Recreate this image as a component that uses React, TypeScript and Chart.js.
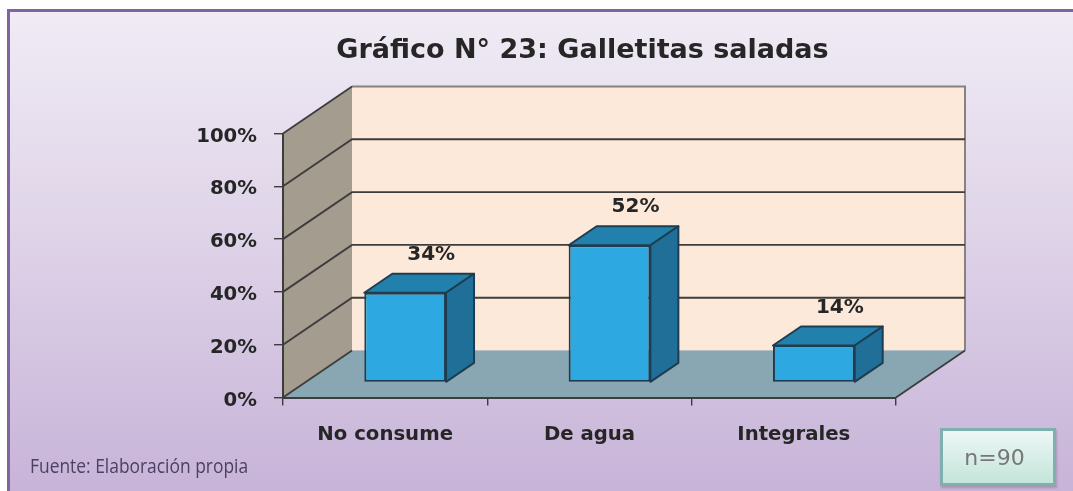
import React, { useEffect, useRef } from "react";
import { Chart, registerables } from "chart.js";

Chart.register(...registerables);

const categories = ["No consume", "De agua", "Integrales"];
const values = [34, 52, 14];
const yTicks = [0, 20, 40, 60, 80, 100];
const titleText = "Gráfico N° 23: Galletitas saladas";
const sourceText = "Fuente: Elaboración propia";
const sampleText = "n=90";

const DEPTH = { x: 69, y: 47 };
const BAR_SHIFT = { x: 20, y: 15 };
const BAR_DEPTH = { x: 28, y: 19 };
const FONT = "'DejaVu Sans', sans-serif";

const poly = (ctx: CanvasRenderingContext2D, pts: number[][], fill: string, stroke?: string, lw = 2) => {
  ctx.beginPath();
  pts.forEach(([x, y], i) => (i ? ctx.lineTo(x, y) : ctx.moveTo(x, y)));
  ctx.closePath();
  ctx.fillStyle = fill;
  ctx.fill();
  if (stroke) {
    ctx.strokeStyle = stroke;
    ctx.lineWidth = lw;
    ctx.lineJoin = "round";
    ctx.stroke();
  }
};

const line = (ctx: CanvasRenderingContext2D, pts: number[][], color: string, lw: number) => {
  ctx.beginPath();
  pts.forEach(([x, y], i) => (i ? ctx.lineTo(x, y) : ctx.moveTo(x, y)));
  ctx.strokeStyle = color;
  ctx.lineWidth = lw;
  ctx.stroke();
};

const box3d = {
  id: "box3d",
  afterLayout(chart: any) {
    // The title is centred well to the right of the middle of its layout box.
    chart.titleBlock.left += 73;
    chart.titleBlock.right += 73;
  },
  beforeDraw(chart: any) {
    const { ctx, chartArea: a, scales } = chart;
    const y = scales.y;
    const y0 = y.getPixelForValue(0);
    const y100 = y.getPixelForValue(100);
    const bx0 = a.left + DEPTH.x;
    const bx1 = a.right + DEPTH.x;
    ctx.save();
    poly(ctx, [[bx0, y100 - DEPTH.y], [bx1, y100 - DEPTH.y], [bx1, y0 - DEPTH.y], [bx0, y0 - DEPTH.y]], "#FDE9D9");
    poly(ctx, [[a.left, y100], [bx0, y100 - DEPTH.y], [bx0, y0 - DEPTH.y], [a.left, y0]], "#A59C90");
    poly(ctx, [[a.left, y0], [bx0, y0 - DEPTH.y], [bx1, y0 - DEPTH.y], [a.right, y0]], "#88A7B2");
    line(ctx, [[bx1, y0 - DEPTH.y], [bx1, y100 - DEPTH.y], [bx0, y100 - DEPTH.y]], "#85827F", 2);
    yTicks.forEach((v) => {
      const py = y.getPixelForValue(v);
      if (v === 100) {
        line(ctx, [[a.left, py], [bx0, py - DEPTH.y]], "#3d3d3d", 1.8);
      } else if (v === 0) {
        line(ctx, [[a.left, py], [bx0, py - DEPTH.y]], "#3d3d3d", 1.8);
        line(ctx, [[a.right, py], [bx1, py - DEPTH.y]], "#3d3d3d", 1.8);
      } else {
        line(ctx, [[a.left, py], [bx0, py - DEPTH.y], [bx1, py - DEPTH.y]], "#3d3d3d", 1.9);
      }
    });
    ctx.restore();
  },
  beforeDatasetDraw(chart: any) {
    chart.ctx.save();
    chart.ctx.translate(BAR_SHIFT.x, -BAR_SHIFT.y);
  },
  afterDatasetDraw(chart: any, args: any) {
    const { ctx } = chart;
    const stroke = "#1E3D50";
    args.meta.data.forEach((bar: any, i: number) => {
      const w = bar.width / 2;
      const l = bar.x - w;
      const r = bar.x + w;
      const t = bar.y;
      const b = bar.base;
      const d = BAR_DEPTH;
      poly(ctx, [[l, t], [l + d.x, t - d.y], [r + d.x, t - d.y], [r, t]], "#2280AD", stroke);
      poly(ctx, [[r, t], [r + d.x, t - d.y], [r + d.x, b - d.y], [r, b]], "#1F6F98", stroke);
      ctx.fillStyle = "#262626";
      ctx.font = `bold 20px ${FONT}`;
      ctx.textAlign = "center";
      ctx.textBaseline = "middle";
      ctx.fillText(`${values[i]}%`, bar.x + 26, t - 38);
    });
    ctx.restore();
  },
};

export default function App() {
  const ref = useRef<HTMLCanvasElement>(null);

  useEffect(() => {
    const chart = new Chart(ref.current as HTMLCanvasElement, {
      type: "bar",
      data: {
        labels: categories,
        datasets: [
          {
            data: values,
            backgroundColor: "#2DA8E0",
            borderColor: "#1E3D50",
            borderWidth: 2,
            borderSkipped: false,
            categoryPercentage: 1,
            barPercentage: 0.4,
            clip: false,
          } as any,
        ],
      },
      options: {
        animation: false,
        responsive: false,
        layout: { padding: { left: 123, right: 177, top: 0, bottom: 0 } },
        plugins: {
          legend: { display: false },
          tooltip: { enabled: false },
          title: {
            display: true,
            text: titleText,
            color: "#262626",
            font: { family: FONT, size: 27, weight: "bold", lineHeight: 1.2 },
            padding: { top: 35, bottom: 66.1 },
          },
        },
        scales: {
          x: {
            afterFit: (s: any) => {
              s.height = 93.5;
            },
            grid: { drawOnChartArea: false, drawTicks: true, tickLength: 8, color: "#3d3d3d", lineWidth: 1.4 },
            border: { color: "#3d3d3d", width: 2 },
            ticks: {
              color: "#262626",
              font: { family: FONT, size: 19.7, weight: "bold" },
              padding: 18,
              maxRotation: 0,
            },
          },
          y: {
            min: 0,
            max: 100,
            afterFit: (s: any) => {
              s.width = 160;
            },
            afterBuildTicks: (s: any) => {
              s.ticks = yTicks.map((value) => ({ value }));
            },
            grid: { drawOnChartArea: false, drawTicks: true, tickLength: 9, color: "#3d3d3d", lineWidth: 1.4 },
            border: { color: "#3d3d3d", width: 2 },
            ticks: {
              color: "#262626",
              font: { family: FONT, size: 19.7, weight: "bold" },
              padding: 17,
              labelOffset: 3,
              callback: (v: any) => `${v}%`,
            },
          },
        },
      },
      plugins: [box3d],
    } as any);
    return () => chart.destroy();
  }, []);

  return (
    <div style={{ position: "fixed", left: 0, top: 0, width: 1073, height: 491, overflow: "hidden", background: "#fff" }}>
      <div
        style={{
          position: "absolute",
          left: 7,
          top: 9,
          width: 1100,
          height: 520,
          boxSizing: "border-box",
          border: "3px solid #8064A2",
          background: "linear-gradient(180deg, #F0EBF5 0%, #E0D5E9 40%, #C4AFD6 100%)",
        }}
      />
      <canvas ref={ref} width={1073} height={491} style={{ position: "absolute", left: 0, top: 0, display: "block" }} />
      <div
        style={{
          position: "absolute",
          left: 30,
          top: 454,
          fontFamily: "'Open Sans', sans-serif",
          fontSize: 20,
          lineHeight: "24px",
          color: "#4B4160",
          whiteSpace: "nowrap",
          transform: "scaleX(0.87)",
          transformOrigin: "left center",
        }}
      >
        {sourceText}
      </div>
      <div
        style={{
          position: "absolute",
          left: 940,
          top: 428,
          width: 116,
          height: 58,
          boxSizing: "border-box",
          border: "3px solid #7FB0AE",
          background: "linear-gradient(180deg, #ECF7F5 0%, #C4E5DB 100%)",
          boxShadow: "1px 2px 2px rgba(60,60,60,0.25)",
          display: "flex",
          alignItems: "center",
          justifyContent: "center",
          paddingRight: 7,
          fontFamily: FONT,
          fontSize: 22,
          color: "#777",
        }}
      >
        {sampleText}
      </div>
    </div>
  );
}
